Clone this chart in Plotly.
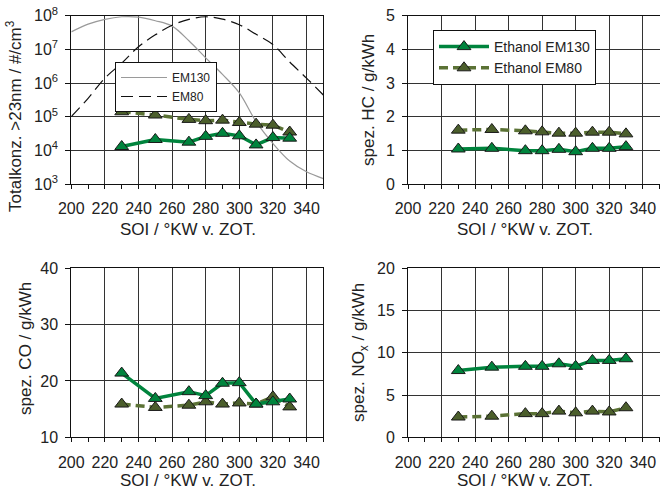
import plotly.graph_objects as go

# ---------------- data ----------------
soi = [230, 250, 270, 280, 290, 300, 310, 320, 330]

pn_em130 = [1.3e4, 2.1e4, 1.75e4, 2.6e4, 3.2e4, 2.7e4, 1.45e4, 2.4e4, 2.3e4]
pn_em80 = [1.4e5, 1.12e5, 8.3e4, 7.6e4, 7.9e4, 6.7e4, 6.0e4, 5.6e4, 3.5e4]

hc_em130 = [1.04, 1.06, 0.99, 0.99, 1.03, 0.96, 1.06, 1.06, 1.11]
hc_em80 = [1.60, 1.62, 1.58, 1.55, 1.51, 1.51, 1.54, 1.54, 1.49]

co_em130 = [21.4, 16.9, 18.1, 17.4, 19.6, 19.7, 15.9, 16.3, 16.8]
co_em80 = [15.9, 15.3, 15.7, 16.3, 15.9, 16.1, 15.9, 17.2, 15.4]

nox_em130 = [7.9, 8.3, 8.4, 8.4, 8.7, 8.4, 9.1, 9.1, 9.3]
nox_em80 = [2.4, 2.5, 2.8, 2.8, 3.1, 2.9, 3.1, 3.0, 3.5]

curve_x = [200, 210, 220, 230, 240, 250, 260, 270, 280, 290, 300, 310, 320, 330, 340, 350]
curve_em130 = [3.3e7, 5.6e7, 7.8e7, 9.3e7, 9.1e7, 7.1e7, 4.9e7, 1.8e7, 5.6e6, 1.8e6,
               5.1e5, 7.1e4, 1.6e4, 4.8e3, 2.3e3, 1.45e3]
curve_em80 = [1.0e5, 3.5e5, 1.4e6, 3.9e6, 1.2e7, 2.7e7, 5.2e7, 7.8e7, 9.3e7, 7.9e7,
              5.4e7, 2.8e7, 1.4e7, 4.2e6, 1.4e6, 4.4e5]

x_ticks = [200, 220, 240, 260, 280, 300, 320, 340]
pn_tickvals = [1e3, 1e4, 1e5, 1e6, 1e7, 1e8]
pn_ticktext = ["10<sup>3</sup>", "10<sup>4</sup>", "10<sup>5</sup>", "10<sup>6</sup>",
               "10<sup>7</sup>", "10<sup>8</sup>"]

x_title = "SOI / °KW v. ZOT."
y_titles = ["Totalkonz. >23nm / #/cm<sup>3</sup>", "spez. HC / g/kWh",
            "spez. CO / g/kWh", "spez. NO<sub>x</sub> / g/kWh"]

# ---------------- styling ----------------
W, H = 660, 493
FONT = "Liberation Sans, Arial, sans-serif"
TXT = "#222222"
GREEN = "#00843D"
OLIVE_M = "#4B5E2B"
OLIVE_L = "#5B7235"
GRID = "#333333"


def px_x(a):
    return a / W


def px_y(a):
    return 1 - a / H


fig = go.Figure()

panels = [
    ("x", "y", pn_em130, pn_em80, [3, 8], None, True),
    ("x2", "y2", hc_em130, hc_em80, [0, 5], 1, False),
    ("x3", "y3", co_em130, co_em80, [10, 40], 10, False),
    ("x4", "y4", nox_em130, nox_em80, [0, 20], 5, False),
]

fig.add_trace(go.Scatter(x=curve_x, y=curve_em130, mode="lines", name="EM130",
                         line=dict(color="#9a9a9a", width=1.2, shape="spline"),
                         xaxis="x", yaxis="y", legend="legend2"))
fig.add_trace(go.Scatter(x=curve_x, y=curve_em80, mode="lines", name="EM80",
                         line=dict(color="#111111", width=1.2, shape="spline", dash="12px,6px"),
                         xaxis="x", yaxis="y", legend="legend2"))

for i, (xa, ya, s130, s80, yr, dt, lg) in enumerate(panels):
    show = (i == 1)
    fig.add_trace(go.Scatter(x=soi, y=s80, mode="lines+markers", name="Ethanol EM80",
                             line=dict(color=OLIVE_L, width=3.5, dash="9px,5px"),
                             marker=dict(symbol="triangle-up", size=12, color=OLIVE_M,
                                         line=dict(color="#1a1a1a", width=1)),
                             xaxis=xa, yaxis=ya, showlegend=show, legendrank=2))
    fig.add_trace(go.Scatter(x=soi, y=s130, mode="lines+markers", name="Ethanol EM130",
                             line=dict(color=GREEN, width=3.5),
                             marker=dict(symbol="triangle-up", size=12, color=GREEN,
                                         line=dict(color="#1a1a1a", width=1)),
                             xaxis=xa, yaxis=ya, showlegend=show, legendrank=1))

xl = [px_x(71.3), px_x(323.3)]
xr = [px_x(408), px_x(659.5)]
yt = [px_y(184), px_y(15.7)]
yb = [px_y(437.3), px_y(268.3)]
domains = [(xl, yt), (xr, yt), (xl, yb), (xr, yb)]

layout = dict(
    width=W, height=H, margin=dict(l=0, r=0, t=0, b=0, autoexpand=False),
    paper_bgcolor="white", plot_bgcolor="white",
    font=dict(family=FONT, color=TXT, size=16),
    legend=dict(x=px_x(433), y=px_y(30), xanchor="left", yanchor="top",
                bgcolor="white", bordercolor="#111111", borderwidth=1,
                font=dict(size=14, color=TXT), traceorder="normal",
                itemwidth=50, tracegroupgap=0),
    legend2=dict(x=px_x(115), y=px_y(62), xanchor="left", yanchor="top",
                 bgcolor="white", bordercolor="#111111", borderwidth=1,
                 font=dict(size=12, color=TXT), itemwidth=46, tracegroupgap=0,
                 entrywidth=38, entrywidthmode="pixels"),
    showlegend=True,
)

for i, (xa, ya, s130, s80, yr, dt, lg) in enumerate(panels):
    xd, yd = domains[i]
    xkey = "xaxis" if xa == "x" else "xaxis" + xa[1:]
    ykey = "yaxis" if ya == "y" else "yaxis" + ya[1:]
    layout[xkey] = dict(
        domain=xd, anchor=ya, range=[200, 350], tickvals=x_ticks, automargin=False,
        showgrid=True, gridcolor=GRID, gridwidth=1,
        showline=True, linecolor="#111111", linewidth=1, mirror=True,
        ticks="outside", ticklen=4, tickcolor="#111111", ticklabelstandoff=6,
        minor=dict(dtick=10, tick0=200, ticks="outside", ticklen=4, tickcolor="#111111", showgrid=False),
        tickfont=dict(size=16, color=TXT), zeroline=False,
    )
    yaxis = dict(
        domain=yd, anchor=xa, automargin=False, showgrid=True, gridcolor=GRID, gridwidth=1,
        showline=True, linecolor="#111111", linewidth=1, mirror=True,
        ticks="outside", ticklen=5, tickcolor="#111111", ticklabelstandoff=4,
        tickfont=dict(size=16, color=TXT), zeroline=False,
    )
    if lg:
        yaxis.update(type="log", range=yr, tickvals=pn_tickvals, ticktext=pn_ticktext)
    else:
        yaxis.update(range=yr, dtick=dt, tick0=yr[0])
    layout[ykey] = yaxis

fig.update_layout(**layout)

ann = []
for cx, cy in [(187.5, 230), (524.6, 230), (187.5, 480), (524.6, 480)]:
    ann.append(dict(text=x_title, x=px_x(cx), y=px_y(cy), xref="paper", yref="paper",
                    showarrow=False, xanchor="center", yanchor="middle",
                    font=dict(size=17, color=TXT)))
for (cx, cy), t in zip([(14, 116), (368, 100), (25, 349), (360, 353)], y_titles):
    ann.append(dict(text=t, x=px_x(cx), y=px_y(cy), xref="paper", yref="paper",
                    showarrow=False, textangle=-90, xanchor="center", yanchor="middle",
                    font=dict(size=17, color=TXT)))
fig.update_layout(annotations=ann)

fig.write_html("out.html", config={"displayModeBar": False},
               post_script="document.body.style.margin='0';document.body.style.overflow='hidden';")
